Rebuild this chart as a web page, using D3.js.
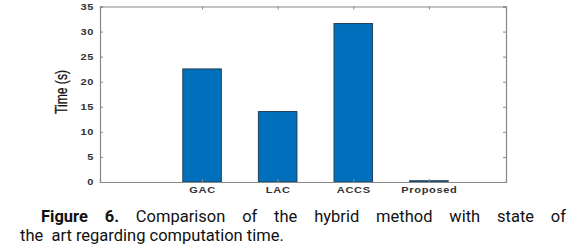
<!DOCTYPE html>
<html>
<head>
<meta charset="utf-8">
<script src="https://cdn.jsdelivr.net/npm/d3@7/dist/d3.min.js"></script>
<style>
  body { margin: 0; background: #fff; }
  #wrap { position: relative; width: 575px; height: 249px; }
  .cap {
    position: absolute; font-family: Roboto, sans-serif; font-size: 16.5px;
    line-height: 19px; color: #111; white-space: pre;
  }
  .cap1 { left: 41px; top: 207px; width: 525px; text-align: justify; text-align-last: justify; white-space: normal; }
  .cap2 { left: 20px; top: 226px; }
  .cap b { font-weight: 700; }
  .tick text { font-family: "Liberation Sans", Arial, sans-serif; font-weight: bold; font-size: 8.5px; letter-spacing: 0.5px; fill: #333; }
</style>
</head>
<body>
<div id="wrap">
  <svg id="chart" width="575" height="205"></svg>
  <div class="cap cap1"><b>Figure 6.</b> Comparison of the hybrid method with state of</div>
  <div class="cap cap2">the  art regarding computation time.</div>
</div>
<script>
// data
const methods = ['GAC', 'LAC', 'ACCS', 'Proposed'];
const times = [22.55, 14.05, 31.6, 0.25];
const yTicks = [0, 5, 10, 15, 20, 25, 30, 35];

const svg = d3.select('#chart');
const mLeft = 100, mRight = 506, mTop = 6.5, mBottom = 182;

// categories sit at 1..4, axis limits
const x = d3.scaleLinear().domain([-0.35, 5.02]).range([mLeft, mRight]);
const y = d3.scaleLinear().domain([0, 35]).range([mBottom, mTop]);
const barW = 0.51;

const axisColor = '#888';

// bars
svg.append('g').selectAll('rect')
  .data(methods)
  .join('rect')
  .attr('x', (d, i) => x(i + 1 - barW / 2))
  .attr('width', x(barW) - x(0))
  .attr('y', (d, i) => y(times[i]))
  .attr('height', (d, i) => y(0) - y(times[i]))
  .attr('fill', '#0070BC')
  .attr('stroke', '#23405a')
  .attr('stroke-width', 1);

// left axis with labels
const yAxis = svg.append('g').attr('transform', `translate(${mLeft},0)`)
  .call(d3.axisLeft(y).tickValues(yTicks).tickSize(-3).tickPadding(6));
// right axis, ticks only
const yAxisR = svg.append('g').attr('transform', `translate(${mRight},0)`)
  .call(d3.axisRight(y).tickValues(yTicks).tickSize(-3).tickFormat(''));
// bottom axis
const xAxis = svg.append('g').attr('transform', `translate(0,${mBottom})`)
  .call(d3.axisBottom(x).tickValues([1, 2, 3, 4]).tickSize(-3).tickPadding(5)
    .tickFormat((d, i) => methods[i]));
// top axis
const xAxisT = svg.append('g').attr('transform', `translate(0,${mTop})`)
  .call(d3.axisTop(x).tickValues([1, 2, 3, 4]).tickSize(-3).tickFormat(''));

[yAxis, yAxisR, xAxis, xAxisT].forEach(a => {
  a.selectAll('path').attr('stroke', axisColor).attr('stroke-width', 1.2);
  a.selectAll('line').attr('stroke', axisColor);
});

// tick labels in the figure are drawn wide, stretch them
svg.selectAll('.tick text').each(function () {
  const w = this.getComputedTextLength();
  if (w > 0) d3.select(this).attr('textLength', w * 1.3).attr('lengthAdjust', 'spacingAndGlyphs');
});

// y label
svg.append('text')
  .attr('transform', `translate(67,92)rotate(-90)`)
  .attr('text-anchor', 'middle')
  .attr('font-family', '"Liberation Sans", Arial, sans-serif')
  .attr('font-size', 16)
  .attr('fill', '#111')
  .attr('stroke', '#111')
  .attr('stroke-width', 0.3)
  .attr('textLength', 44)
  .attr('lengthAdjust', 'spacingAndGlyphs')
  .text('Time (s)');
</script>
</body>
</html>
